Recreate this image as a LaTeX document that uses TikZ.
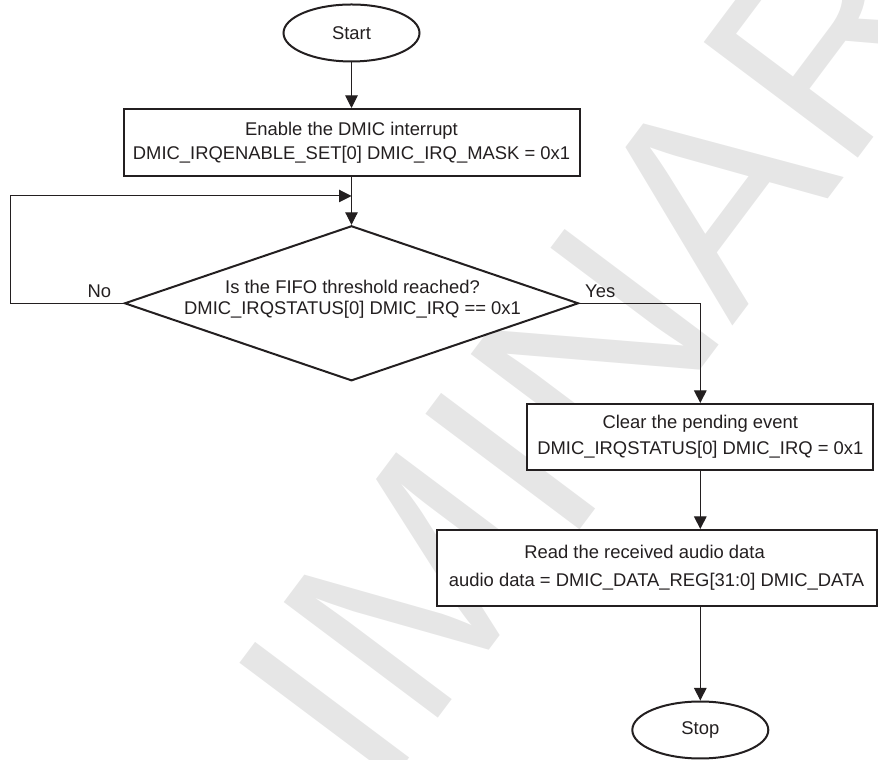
\documentclass[tikz,border=0pt]{standalone}
\usepackage{fontspec}
\setmainfont{Liberation Sans}
\usetikzlibrary{shapes.geometric,arrows.meta}
\definecolor{ink}{RGB}{35,31,32}
\definecolor{wm}{RGB}{230,230,230}
\begin{document}
\begin{tikzpicture}[x=1pt,y=1pt,
  txt/.style={text=ink, font=\fontsize{18.4}{24.4}\selectfont, align=center, inner sep=0pt},
  term/.style={ellipse, draw=ink, line width=2pt, fill=white, minimum width=136pt, minimum height=57pt, inner sep=0pt, text=ink, font=\fontsize{18.4}{22}\selectfont},
  procbox/.style={rectangle, draw=ink, line width=2pt, fill=white, inner sep=0pt, txt},
  decide/.style={diamond, draw=ink, line width=2pt, fill=white, minimum width=454pt, minimum height=155pt, inner sep=0pt},
  flow/.style={draw=ink, line width=1pt, -{Triangle[length=12.5pt,width=12.5pt]}},
  lbl/.style={text=ink, font=\fontsize{18.4}{22}\selectfont, inner sep=0pt}
]
\useasboundingbox (0,0) rectangle (878,760);
\begin{scope}
  \clip (0,0) rectangle (878,760);
  \node[rotate=53.13, anchor=base west, inner sep=0pt, text=wm, font=\fontsize{280}{280}\selectfont] (wmark) at (-60.8,-624.4) {PRELIMINARY};
\end{scope}

\node[term] (start) at (351.5,727) {Start};
\node[procbox, minimum width=456pt, minimum height=67pt] (enable) at (351.5,617.5)
  {Enable the DMIC interrupt\\DMIC\_IRQENABLE\_SET[0] DMIC\_IRQ\_MASK = 0x1};
\node[decide] (dia) at (351.5,456.7) {};
\node[txt, font=\fontsize{18.4}{21}\selectfont] (diatext) at (352.5,461)
  {Is the FIFO threshold reached?\\DMIC\_IRQSTATUS[0] DMIC\_IRQ == 0x1};
\node[procbox, minimum width=346pt, minimum height=66pt, font=\fontsize{18.4}{25.6}\selectfont] (clear) at (700.3,323)
  {Clear the pending event\\DMIC\_IRQSTATUS[0] DMIC\_IRQ = 0x1};
\node[procbox, minimum width=440pt, minimum height=76pt, font=\fontsize{18.4}{28.4}\selectfont] (read) at (656.6,192)
  {Read the received audio data\kern24pt\null\\audio data = DMIC\_DATA\_REG[31:0] DMIC\_DATA};
\node[term] (stop) at (700.3,30) {Stop};

\node[lbl, anchor=base west] (no) at (87.3,462.5) {No};
\node[lbl, anchor=base west] (yes) at (585,462.5) {Yes};

\coordinate (loopL) at (10.7,564);
\coordinate (junc) at (351.5,564);

\draw[flow] (start.south) -- (enable.north);
\draw[flow] (enable.south) -- (dia.north);
\draw[flow] (dia.west) -| (loopL) -- (junc);
\draw[flow] (dia.east) -| (clear.north);
\draw[flow] (clear.south) -- (clear.south |- read.north);
\draw[flow] (stop.north |- read.south) -- (stop.north);
\end{tikzpicture}
\end{document}
